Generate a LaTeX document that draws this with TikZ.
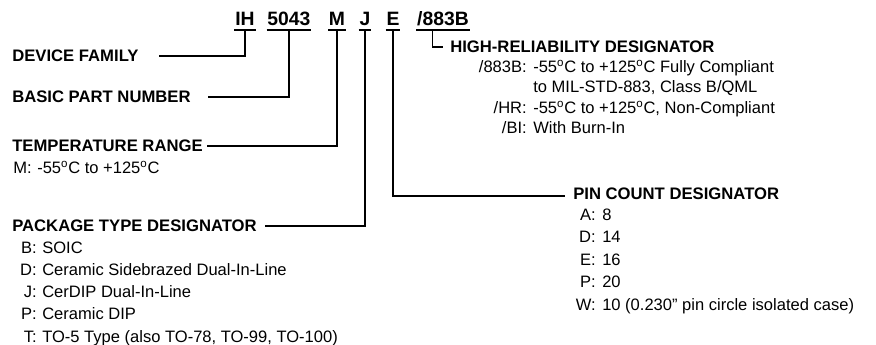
\documentclass[tikz,border=0pt]{standalone}
\usepackage{fontspec}
\setmainfont{Liberation Sans}
\usetikzlibrary{positioning}

\newcommand{\dg}{\textsuperscript{o}}

\begin{document}
\begin{tikzpicture}[x=0.75pt, y=-0.75pt,
  code/.style={font=\fontsize{14.5}{16}\selectfont\bfseries, inner xsep=0.5pt, inner ysep=3.6pt, text depth=0pt, anchor=base},
  head/.style={font=\fontsize{12.5}{14}\selectfont\bfseries, inner sep=0pt, anchor=west},
  key/.style={font=\fontsize{12.4}{14}\selectfont, inner sep=0pt, anchor=base east},
  val/.style={font=\fontsize{12.4}{14}\selectfont, inner sep=0pt, anchor=base west},
  lead/.style={line width=1pt}]
  \useasboundingbox (0,0) rectangle (876,344);
  % part number
  \node[code] (ih) at (245,25) {IH};
  \node[code] (pn) at (289,25) {5043};
  \node[code] (tr) at (337,25) {M};
  \node[code] (pk) at (365,25) {J};
  \node[code] (pc) at (393,25) {E};
  \node[code] (hr) at (443,25) {/883B};
  \foreach \n in {ih, pn, tr, pk, pc, hr} {
    \draw[lead] (\n.south west) -- (\n.south east);
  }
  % field titles
  \node[head] (devfam) at (12,56) {DEVICE FAMILY};
  \node[head] (basic) at (12,97) {BASIC PART NUMBER};
  \node[head] (temp) at (12,146) {TEMPERATURE RANGE};
  \node[head] (pkg) at (12,226) {PACKAGE TYPE DESIGNATOR};
  \node[head] (pin) at (573,194) {PIN COUNT DESIGNATOR};
  \node[head] (hrel) at (450,47) {HIGH-RELIABILITY DESIGNATOR};
  % leaders
  \draw[lead] (ih.south) |- ([xshift=15pt]devfam.east);
  \draw[lead] (pn.south) |- ([xshift=13pt]basic.east);
  \draw[lead] (tr.south) |- ([xshift=3pt]temp.east);
  \draw[lead] (pk.south) |- ([xshift=6pt]pkg.east);
  \draw[lead] (pc.south) |- ([xshift=-6pt,yshift=-1.5pt]pin.west);
  \draw[lead] ([xshift=-8pt]hr.south) |- ([xshift=-5pt]hrel.west);
  % temperature range
  \node[key] (tr-k1) at (32,173) {M:};
  \node[val] (tr-v1) at (37,173) {-55\dg C to +125\dg C};
  % package types
  \foreach \k/\v [count=\i] in {B/SOIC, D/Ceramic Sidebrazed Dual-In-Line, J/CerDIP Dual-In-Line, P/Ceramic DIP, T/{TO-5 Type (also TO-78, TO-99, TO-100)}} {
    \node[key] (pk-k\i) at (37,{253+22.3*(\i-1)}) {\k:};
    \node[val] (pk-v\i) at (42,{253+22.3*(\i-1)}) {\v};
  }
  % pin counts
  \foreach \k/\v [count=\i] in {A/8, D/14, E/16, P/20, W/{10 (0.230" pin circle isolated case)}} {
    \node[key] (pc-k\i) at (596,{220+22.5*(\i-1)}) {\k:};
    \node[val] (pc-v\i) at (602,{220+22.5*(\i-1)}) {\v};
  }
  % high-reliability options
  \foreach \k/\v [count=\i] in {{/883B:}/{-55\dg C to +125\dg C Fully Compliant}, {}/{to MIL-STD-883, Class B/QML}, {/HR:}/{-55\dg C to +125\dg C, Non-Compliant}, {/BI:}/{With Burn-In}} {
    \node[key] (hr-k\i) at (527,{72+20.5*(\i-1)}) {\k};
    \node[val] (hr-v\i) at (533,{72+20.5*(\i-1)}) {\v};
  }
\end{tikzpicture}
\end{document}
